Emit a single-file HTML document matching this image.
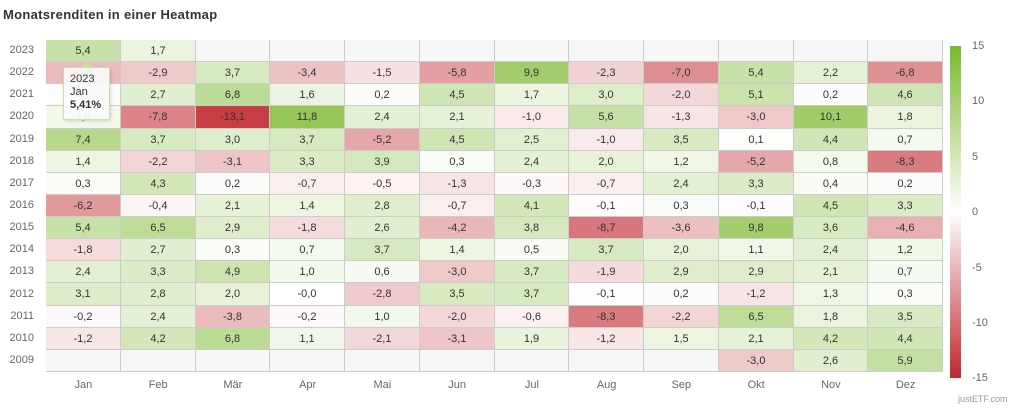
<!DOCTYPE html>
<html><head><meta charset="utf-8"><style>
body{margin:0;width:1023px;height:411px;background:#fff;font-family:"Liberation Sans",sans-serif;position:relative;overflow:hidden}
.t{position:absolute;white-space:nowrap}
.c{position:absolute;box-sizing:border-box;border-right:1px solid #ccc;border-bottom:1px solid #ccc;font-size:11px;color:#333;text-align:center}
.y{position:absolute;font-size:11px;color:#666;text-align:right;width:34px;left:0}
.m{position:absolute;font-size:11px;color:#666;text-align:center;top:379px}
.l{position:absolute;font-size:11px;color:#666;left:972px}
</style></head><body>
<div class="t" style="left:3px;top:7px;font-size:13px;font-weight:bold;color:#333;letter-spacing:0.3px">Monatsrenditen in einer Heatmap</div>
<div id="g" style="position:absolute;left:46px;top:40px;width:897px;height:332px;border-left:1px solid #ccc;border-top:1px solid #ccc;box-sizing:border-box"></div>
<div id="h"></div>
<div style="position:absolute;left:950px;top:46px;width:11px;height:332px;background:linear-gradient(#7cb82f,#fff 50%,#c0272d)"></div>
<div class="l" style="top:40px">15</div><div class="l" style="top:95px">10</div><div class="l" style="top:151px">5</div><div class="l" style="top:206px">0</div><div class="l" style="top:262px">-5</div><div class="l" style="top:317px">-10</div><div class="l" style="top:372px">-15</div>
<div class="t" style="left:958px;top:394px;font-size:9px;color:#999">justETF.com</div>
<div style="position:absolute;left:63px;top:67px;width:47px;height:53px;background:rgba(250,250,250,.92);border:1px solid #c8e0a0;border-radius:2px;box-shadow:1px 1px 3px rgba(0,0,0,.15);font-size:11px;color:#333;line-height:13px;padding:5px 0 0 6px;box-sizing:border-box">2023<br>Jan<br><b>5,41%</b></div>
<div style="position:absolute;left:82px;top:62px;width:0;height:0;border-left:5px solid transparent;border-right:5px solid transparent;border-bottom:5px solid #c8e0a0"></div>
<script>
var D={2023:"5,4|1,7||||||||||",
2022:"-3,8|-2,9|3,7|-3,4|-1,5|-5,8|9,9|-2,3|-7,0|5,4|2,2|-6,8",
2021:"0,1|2,7|6,8|1,6|0,2|4,5|1,7|3,0|-2,0|5,1|0,2|4,6",
2020:"1,0|-7,8|-13,1|11,8|2,4|2,1|-1,0|5,6|-1,3|-3,0|10,1|1,8",
2019:"7,4|3,7|3,0|3,7|-5,2|4,5|2,5|-1,0|3,5|0,1|4,4|0,7",
2018:"1,4|-2,2|-3,1|3,3|3,9|0,3|2,4|2,0|1,2|-5,2|0,8|-8,3",
2017:"0,3|4,3|0,2|-0,7|-0,5|-1,3|-0,3|-0,7|2,4|3,3|0,4|0,2",
2016:"-6,2|-0,4|2,1|1,4|2,8|-0,7|4,1|-0,1|0,3|-0,1|4,5|3,3",
2015:"5,4|6,5|2,9|-1,8|2,6|-4,2|3,8|-8,7|-3,6|9,8|3,6|-4,6",
2014:"-1,8|2,7|0,3|0,7|3,7|1,4|0,5|3,7|2,0|1,1|2,4|1,2",
2013:"2,4|3,3|4,9|1,0|0,6|-3,0|3,7|-1,9|2,9|2,9|2,1|0,7",
2012:"3,1|2,8|2,0|-0,0|-2,8|3,5|3,7|-0,1|0,2|-1,2|1,3|0,3",
2011:"-0,2|2,4|-3,8|-0,2|1,0|-2,0|-0,6|-8,3|-2,2|6,5|1,8|3,5",
2010:"-1,2|4,2|6,8|1,1|-2,1|-3,1|1,9|-1,2|1,5|2,1|4,2|4,4",
2009:"|||||||||-3,0|2,6|5,9"};
var M=["Jan","Feb","Mär","Apr","Mai","Jun","Jul","Aug","Sep","Okt","Nov","Dez"];
var X0=46,Y0=40,W=897/12,H=332/15,h="";
function col(v){var t=Math.pow(Math.min(Math.abs(v)/15,1),0.85),c=v>=0?[124,184,47]:[192,39,45];
return "rgb("+c.map(function(k){return Math.round(255-(255-k)*t)}).join(",")+")";}
for(var r=0;r<15;r++){var yr=2023-r,a=D[yr].split("|");
h+='<div class="y" style="top:'+(Y0+r*H+H/2-7)+'px">'+yr+'</div>';
for(var i=0;i<12;i++){var s=a[i],x1=Math.round(X0+i*W),x2=Math.round(X0+(i+1)*W),y1=Math.round(Y0+r*H),y2=Math.round(Y0+(r+1)*H);
var bg=s===""?"#f7f7f7":col(parseFloat(s.replace(",",".")));
h+='<div class="c" style="left:'+x1+'px;top:'+y1+'px;width:'+(x2-x1)+'px;height:'+(y2-y1)+'px;line-height:'+(y2-y1)+'px;background:'+bg+'">'+s+'</div>';}}
for(var i=0;i<12;i++)h+='<div class="m" style="left:'+(X0+i*W)+'px;width:'+W+'px">'+M[i]+'</div>';
document.getElementById("h").innerHTML=h;
</script>
</body></html>
